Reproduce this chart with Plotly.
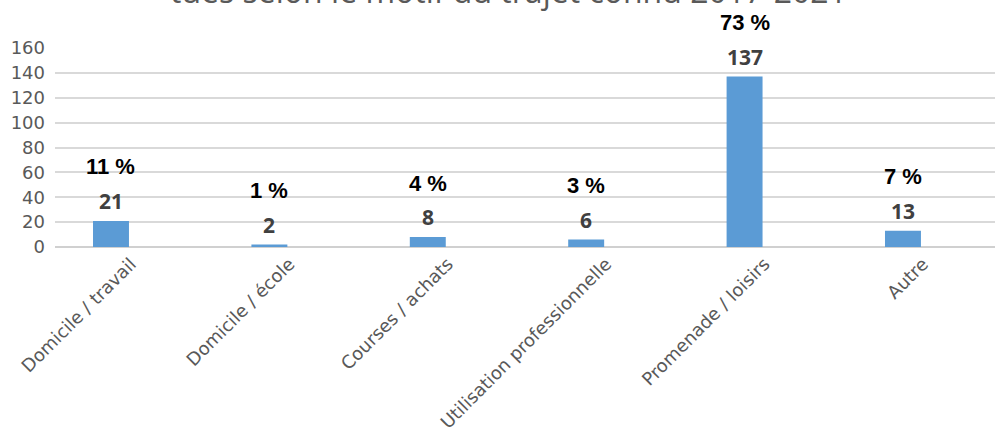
import plotly.graph_objects as go

categories = ["Domicile / travail", "Domicile / école", "Courses / achats",
              "Utilisation professionnelle", "Promenade / loisirs", "Autre"]
values = [21, 2, 8, 6, 137, 13]
percent_labels = ["11 %", "1 %", "4 %", "3 %", "73 %", "7 %"]
y_ticks = [0, 20, 40, 60, 80, 100, 120, 140, 160]
title_text = "tués selon le motif du trajet connu 2017-2021"

W, H = 995, 436
ML, MR, MT, MB = 55, 0, 47.5, 188.5

fig = go.Figure()
fig.add_trace(go.Bar(
    x=categories, y=values,
    marker=dict(color="#5B9BD5", line=dict(width=0)),
    width=0.227,
    hoverinfo="x+y",
))

annotations = []
for c, v, p in zip(categories, values, percent_labels):
    annotations.append(dict(
        x=c, y=v, xref="x", yref="y", text=str(v), showarrow=False,
        yanchor="middle", yshift=20,
        font=dict(family="Open Sans", size=21, color="#404040", weight="bold"),
    ))
    annotations.append(dict(
        x=c, y=v, xref="x", yref="y", text=p, showarrow=False,
        yanchor="middle", yshift=54,
        font=dict(family="Liberation Sans", size=22, color="#000000", weight="bold"),
    ))

annotations.append(dict(
    x=(508 - ML) / (W - ML - MR), y=1, xref="paper", yref="paper",
    text=title_text, showarrow=False, xanchor="center", yanchor="middle",
    yshift=58, font=dict(family="Open Sans", size=32, color="#595959"),
))

fig.update_layout(
    width=W, height=H,
    margin=dict(l=ML, r=MR, t=MT, b=MB, pad=0, autoexpand=False),
    paper_bgcolor="white", plot_bgcolor="white",
    showlegend=False,
    annotations=annotations,
    xaxis=dict(
        type="category",
        range=[-0.3535, 5.581],
        tickangle=-45,
        tickfont=dict(family="DejaVu Sans", size=18, color="#595959"),
        showgrid=False, zeroline=False,
        showline=False,
        ticks="",
        ticklabelshift=20,
        ticklabelstandoff=2,
        automargin=False,
    ),
    yaxis=dict(
        range=[0, 160],
        tickvals=y_ticks,
        tickfont=dict(family="DejaVu Sans", size=18, color="#595959"),
        showgrid=True, gridcolor="#D9D9D9", gridwidth=2,
        zeroline=True, zerolinecolor="#D0D0D0", zerolinewidth=2,
        ticks="", ticklabelstandoff=9,
        showline=False,
        automargin=False,
    ),
)

fig.write_html(
    "out.html",
    config={"displayModeBar": False},
    post_script="document.body.style.margin='0';document.body.style.overflow='hidden';",
)
